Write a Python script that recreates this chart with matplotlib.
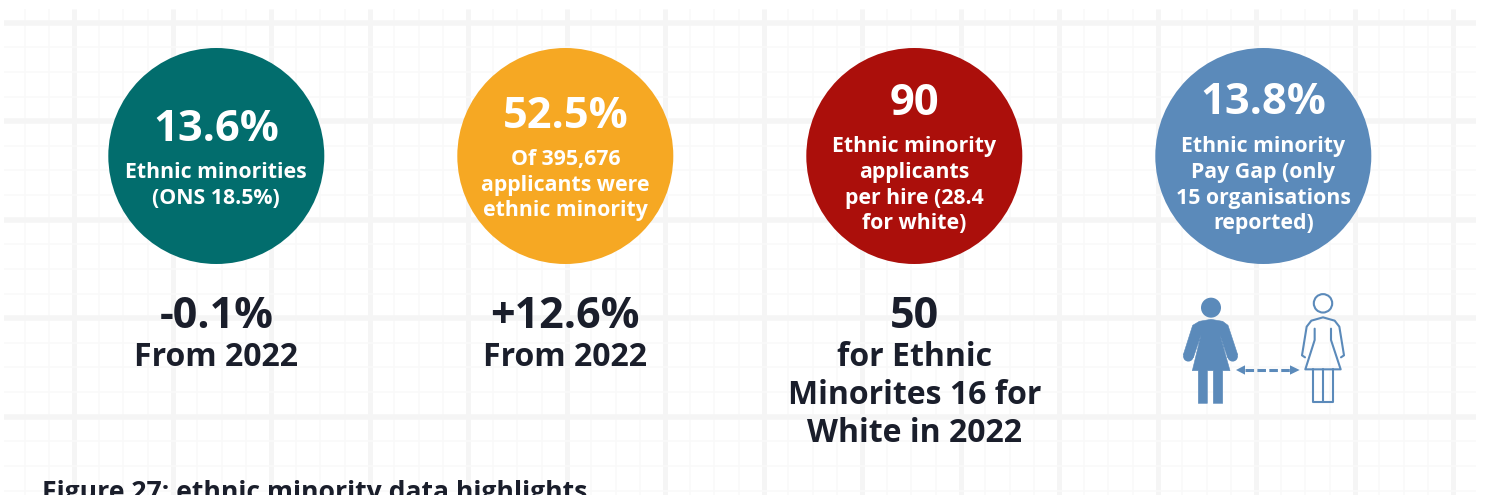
import matplotlib
matplotlib.use("Agg")
import matplotlib.pyplot as plt
from matplotlib.patches import Circle, Polygon, PathPatch
from matplotlib.path import Path

plt.rcParams['font.family'] = ['Open Sans', 'DejaVu Sans']

# Headline figures
circle_x = [216.3, 565.3, 914.3, 1263.3]
colours = ['#026d6d', '#f6a823', '#ab0f0b', '#5b8aba']
headlines = ['13.6%', '52.5%', '90', '13.8%']
headline_y = [124.5, 111.5, 98.5, 97.5]
captions = [
    ['Ethnic minorities', '(ONS 18.5%)'],
    ['Of 395,676', 'applicants were', 'ethnic minority'],
    ['Ethnic minority', 'applicants', 'per hire (28.4', 'for white)'],
    ['Ethnic minority', 'Pay Gap (only', '15 organisations', 'reported)'],
]
caption_y = [
    [170, 196],
    [157, 183, 208],
    [144, 170, 196, 221],
    [144, 170, 196, 221],
]
changes = ['-0.1%', '+12.6%', '50']
change_notes = [
    ['From 2022'],
    ['From 2022'],
    ['for Ethnic', 'Minorites 16 for', 'White in 2022'],
]
note_y = [353.5, 391.5, 429.5]
title = 'Figure 27: ethnic minority data highlights'

INK = '#1a1e2b'
GRID = '#f5f5f5'
GRID_FINE = '#f9f9f9'
BLUE = '#5b8aba'

fig = plt.figure(figsize=(14.85, 4.95), dpi=100, facecolor='white')
ax = fig.add_axes([0, 0, 1, 1])
ax.set_xlim(0, 1485)
ax.set_ylim(495, 0)
ax.axis('off')

# Graph-paper backdrop
step = 98.5 / 4
for i in range(60):
    x = 74 + (i - 3) * step
    if 4 < x < 1476:
        major = (i - 3) % 4 == 0
        ax.plot([x, x], [9, 495], color=GRID if major else GRID_FINE,
                lw=(5 if major else 1.6) * 0.72, solid_capstyle='butt', zorder=1)
for i in range(22):
    y = 22.7 + i * step
    if y < 495:
        major = i % 4 == 0
        ax.plot([4, 1476], [y, y], color=GRID if major else GRID_FINE,
                lw=(5.5 if major else 1.6) * 0.72, solid_capstyle='butt', zorder=1)

# Circles and their captions
for x, col, head, hy, cap, cy in zip(circle_x, colours, headlines, headline_y,
                                     captions, caption_y):
    ax.add_patch(Circle((x, 156), 108, facecolor=col, edgecolor='none', zorder=2))
    ax.text(x, hy, head, color='white', fontsize=31.2, fontweight='bold',
            ha='center', va='center_baseline', zorder=3)
    for line, y in zip(cap, cy):
        ax.text(x, y, line, color='white', fontsize=15.3, fontweight='bold',
                ha='center', va='center_baseline', zorder=3)

# Change figures beneath the circles
for x, big, notes in zip(circle_x, changes, change_notes):
    ax.text(x, 312, big, color=INK, fontsize=31, fontweight='bold',
            ha='center', va='center_baseline', zorder=3)
    for line, y in zip(notes, note_y):
        ax.text(x, y, line, color=INK, fontsize=23, fontweight='bold',
                ha='center', va='center_baseline', zorder=3)

ax.text(42, 500, title, color=INK, fontsize=19.1, fontweight='bold',
        ha='left', va='baseline', zorder=3, clip_on=False)


# Pay gap pictogram: one filled figure, one outlined, joined by a dashed arrow
def zx(v):
    return 1150 + v / 3


def zy(v):
    return 280 + v / 3


def pts(seq):
    return [(zx(a), zy(b)) for a, b in seq]


ax.add_patch(Circle((zx(183), zy(83)), 10, facecolor=BLUE, edgecolor='none', zorder=3))
filled_outline = pts([(148, 124), (183, 118), (218, 124), (234, 136), (263, 224),
                      (233, 233), (210, 165), (240, 272),
                      (218, 272), (218, 370), (190, 370), (190, 272), (172, 272),
                      (172, 370), (145, 370), (145, 272), (127, 272), (153, 165),
                      (130, 233), (100, 224), (128, 136)])
ax.add_patch(Polygon(filled_outline, closed=True, facecolor=BLUE, edgecolor=BLUE,
                     lw=0.4, joinstyle='round', zorder=3))
for hand_x in (115, 248):
    ax.add_patch(Circle((zx(hand_x), zy(229)), 5.2, facecolor=BLUE, edgecolor='none', zorder=3))

ax.add_patch(Circle((zx(519), zy(70)), 9.2, facecolor='white', edgecolor=BLUE, lw=1.5, zorder=3))
outline_strokes = [
    [(465, 232), (456, 226), (470, 140), (484, 122), (519, 112), (554, 122),
     (568, 140), (582, 226), (573, 232)],
    [(494, 146), (494, 180), (466, 268), (572, 268), (543, 180), (543, 146)],
    [(489, 268), (489, 367), (549, 367), (549, 268)],
    [(519, 268), (519, 367)],
]
for stroke in outline_strokes:
    codes = [Path.MOVETO] + [Path.LINETO] * (len(stroke) - 1)
    ax.add_patch(PathPatch(Path(pts(stroke), codes), facecolor='none', edgecolor=BLUE,
                           lw=1.5, joinstyle='round', capstyle='round', zorder=3))

ax.plot([zx(285), zx(425)], [zy(270), zy(270)], color=BLUE, lw=2.2,
        dashes=(2.8, 1.1), zorder=3)
ax.add_patch(Polygon(pts([(258, 270), (285, 256), (285, 284)]), facecolor=BLUE,
                     edgecolor='none', zorder=3))
ax.add_patch(Polygon(pts([(449, 270), (420, 256), (420, 284)]), facecolor=BLUE,
                     edgecolor='none', zorder=3))

fig.savefig('out.png', dpi=100)
